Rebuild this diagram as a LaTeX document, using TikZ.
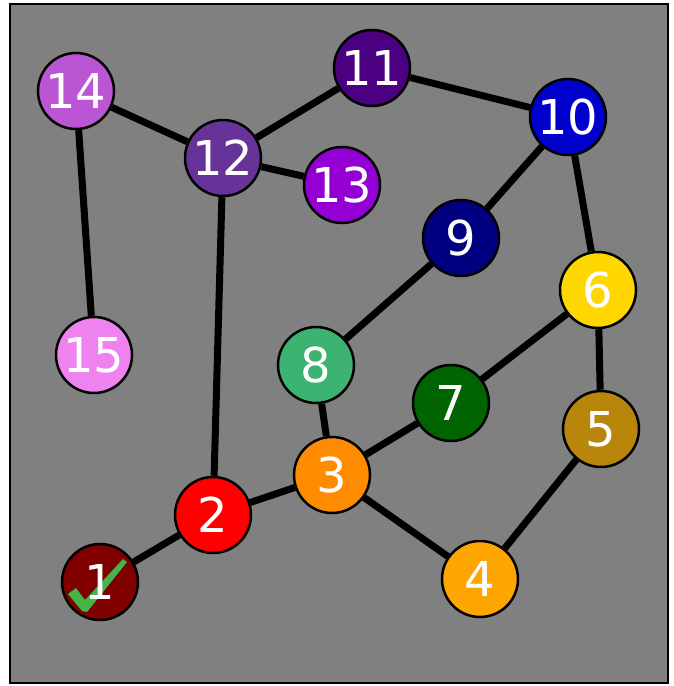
\documentclass[tikz,border=0pt]{standalone}
\usepackage{fontspec}
\setmainfont{DejaVu Sans}
\definecolor{bgray}{RGB}{128,128,128}
\definecolor{c1}{RGB}{128,0,0}
\definecolor{c2}{RGB}{255,0,0}
\definecolor{c3}{RGB}{255,140,0}
\definecolor{c4}{RGB}{255,165,0}
\definecolor{c5}{RGB}{184,134,11}
\definecolor{c6}{RGB}{255,215,0}
\definecolor{c7}{RGB}{0,100,0}
\definecolor{c8}{RGB}{60,179,113}
\definecolor{c9}{RGB}{0,0,128}
\definecolor{c10}{RGB}{0,0,205}
\definecolor{c11}{RGB}{75,0,130}
\definecolor{c12}{RGB}{102,51,153}
\definecolor{c13}{RGB}{148,0,211}
\definecolor{c14}{RGB}{186,85,211}
\definecolor{c15}{RGB}{238,130,238}
\definecolor{checkgreen}{RGB}{70,180,70}
\tikzset{
  vert/.style={circle, draw=black, line width=2.5pt, minimum size=76pt, inner sep=0pt,
    text=white, font=\fontsize{48}{48}\selectfont},
  link/.style={line width=7pt, black},
  frame/.style={fill=bgray, draw=black, line width=1.5pt}
}
\begin{document}
\begin{tikzpicture}[x=1pt,y=-1pt]
\useasboundingbox (0,0) rectangle (674,686);
\draw[frame] (10,4) rectangle (668,683);
\node[vert, fill=c1]  (n1)  at (100,582) {};
\node[vert, fill=c2]  (n2)  at (213,515) {2};
\node[vert, fill=c3]  (n3)  at (332,475) {3};
\node[vert, fill=c4]  (n4)  at (480,579) {4};
\node[vert, fill=c5]  (n5)  at (601,429) {5};
\node[vert, fill=c6]  (n6)  at (598,290) {6};
\node[vert, fill=c7]  (n7)  at (451,403) {7};
\node[vert, fill=c8]  (n8)  at (316,365) {8};
\node[vert, fill=c9]  (n9)  at (461,238) {9};
\node[vert, fill=c10] (n10) at (568,117) {10};
\node[vert, fill=c11] (n11) at (372,68)  {11};
\node[vert, fill=c12] (n12) at (223,158) {12};
\node[vert, fill=c13] (n13) at (342,185) {13};
\node[vert, fill=c14] (n14) at (76,91)   {14};
\node[vert, fill=c15] (n15) at (94,355)  {15};
\fill[checkgreen] (68,594) -- (76,588) -- (85,600) -- (123,559) -- (127,562) -- (87,612) -- (82,611) -- cycle;
\node[text=white, font=\fontsize{48}{48}\selectfont, inner sep=0pt] (t1) at (n1.center) {1};
\draw[link] (n1) -- (n2);
\draw[link] (n2) -- (n3);
\draw[link] (n2) -- (n12);
\draw[link] (n3) -- (n8);
\draw[link] (n3) -- (n7);
\draw[link] (n3) -- (n4);
\draw[link] (n4) -- (n5);
\draw[link] (n5) -- (n6);
\draw[link] (n6) -- (n7);
\draw[link] (n6) -- (n10);
\draw[link] (n10) -- (n9);
\draw[link] (n9) -- (n8);
\draw[link] (n10) -- (n11);
\draw[link] (n11) -- (n12);
\draw[link] (n12) -- (n13);
\draw[link] (n12) -- (n14);
\draw[link] (n14) -- (n15);
\end{tikzpicture}
\end{document}
